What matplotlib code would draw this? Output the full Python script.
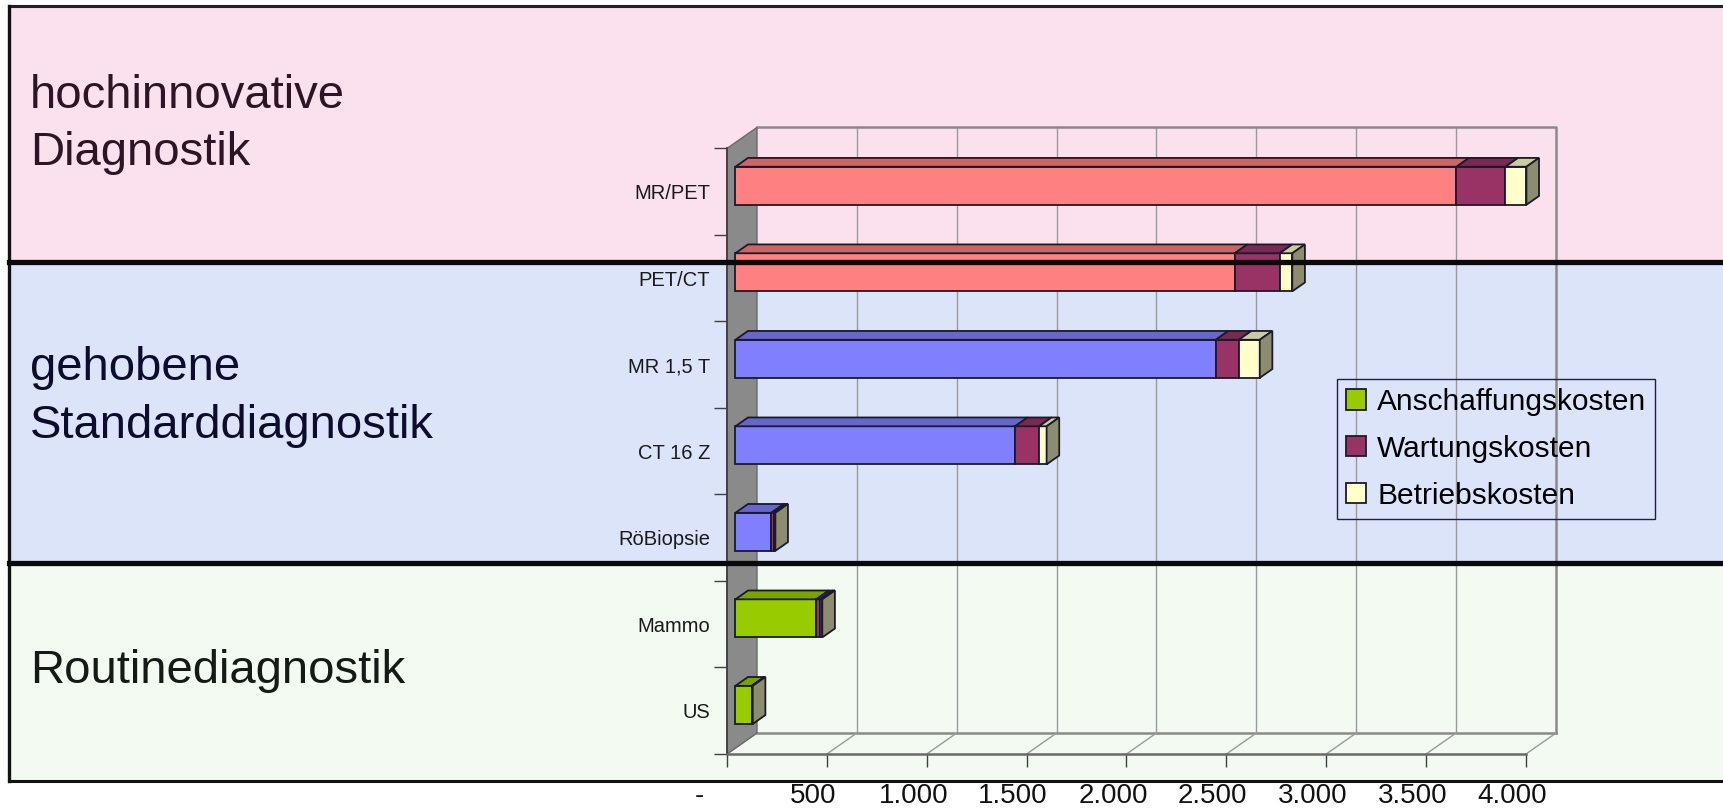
import matplotlib
matplotlib.use("Agg")
import matplotlib.pyplot as plt
from matplotlib.colors import to_rgb
from matplotlib.patches import Patch, Polygon, Rectangle
from matplotlib.transforms import ScaledTranslation

plt.rcParams["font.family"] = ["Liberation Sans", "DejaVu Sans"]

# categories from bottom (front row) to top
CATEGORIES = ["US", "Mammo", "RöBiopsie", "CT 16 Z", "MR 1,5 T", "PET/CT", "MR/PET"]
ANSCHAFFUNG = [82, 405, 180, 1400, 2405, 2500, 3610]
WARTUNG = [3, 20, 12, 120, 115, 225, 245]
BETRIEB = [2, 10, 8, 38, 105, 63, 105]
GROUP = ["routine", "routine", "standard", "standard", "standard", "innovativ", "innovativ"]

SERIES_NAMES = ["Anschaffungskosten", "Wartungskosten", "Betriebskosten"]
X_TICKS = [0, 500, 1000, 1500, 2000, 2500, 3000, 3500, 4000]
X_TICK_LABELS = ["-", "500", "1.000", "1.500", "2.000", "2.500", "3.000", "3.500", "4.000"]

GROUP_LABELS = [
    ["hochinnovative", "Diagnostik"],
    ["gehobene", "Standarddiagnostik"],
    ["Routinediagnostik"],
]

GROUP_COLORS = {"innovativ": "#ff8080", "standard": "#8080ff", "routine": "#99cc00"}
LEGEND_COLORS = ["#99cc00", "#993366", "#ffffcc"]
WARTUNG_COLOR = "#993366"
BETRIEB_COLOR = "#ffffcc"

W, H = 1724, 809


def shade(color, k):
    r, g, b = to_rgb(color)
    return (r * k, g * k, b * k)


def px(x, y):
    return x / W, 1 - y / H


fig = plt.figure(figsize=(W / 100, H / 100), dpi=100)
fig.patch.set_facecolor("white")

# background bands
bg = fig.add_axes([0, 0, 1, 1], zorder=-1)
bg.set_xlim(0, W)
bg.set_ylim(H, 0)
bg.axis("off")
bands = [(6, 262, "#fbe0ee"), (262, 563, "#dce4fa"), (563, 781, "#f2faf2")]
for y0, y1, col in bands:
    bg.add_patch(Rectangle((9, y0), W - 9, y1 - y0, facecolor=col, edgecolor="none"))

label_pos = [(108, 165), (380, 438), (683,)]
label_cols = ["#2e1424", "#0c0c2c", "#161a16"]
for lines, ys, col in zip(GROUP_LABELS, label_pos, label_cols):
    for line, y in zip(lines, ys):
        bg.text(30, y, line, fontsize=34, color=col, va="baseline", ha="left")

# chart axes: x in value units, y in category units
ax = fig.add_axes([727 / W, 1 - 754 / H, 799 / W, 605.6 / H], zorder=1)
ax.set_facecolor("none")
ax.set_xlim(0, 4000)
ax.set_ylim(-0.5, 6.5)

DX = 30 * 4000 / 799
DY = 21 / (605.6 / 7)
F0, F1 = 0.28, 0.70
BH = 0.44
YB, YT = -0.5, 6.5
XMAX = X_TICKS[-1]

grid_col = "#9a9a9a"
# back wall gridlines and frame
for v in X_TICKS[1:-1]:
    ax.plot([v + DX, v + DX], [YB + DY, YT + DY], color=grid_col, lw=1, clip_on=False, zorder=1)
ax.plot([DX, XMAX + DX, XMAX + DX], [YT + DY, YT + DY, YB + DY], color="#8a8a8a", lw=1.8,
        clip_on=False, zorder=1)
# floor
ax.plot([DX, XMAX + DX], [YB + DY, YB + DY], color="#8a8a8a", lw=1.8, clip_on=False, zorder=1)
for v in X_TICKS:
    ax.plot([v, v + DX], [YB, YB + DY], color=grid_col, lw=1, clip_on=False, zorder=1)
# left wall
ax.add_patch(Polygon([(0, YB), (0, YT), (DX, YT + DY), (DX, YB + DY)], closed=True,
                     facecolor="#8a8a8a", edgecolor="#6a6a6a", lw=1, clip_on=False, zorder=1.5))

# stacked 3d bars
for i, cat in enumerate(CATEGORIES):
    segs = [(ANSCHAFFUNG[i], GROUP_COLORS[GROUP[i]]), (WARTUNG[i], WARTUNG_COLOR),
            (BETRIEB[i], BETRIEB_COLOR)]
    yb, yt = i - BH / 2, i + BH / 2
    ox, oy = F0 * DX, F0 * DY
    bx, by = F1 * DX, F1 * DY
    left = 0
    for val, col in segs:
        right = left + val
        front = [(left + ox, yb + oy), (right + ox, yb + oy), (right + ox, yt + oy), (left + ox, yt + oy)]
        top = [(left + ox, yt + oy), (right + ox, yt + oy), (right + bx, yt + by), (left + bx, yt + by)]
        ax.add_patch(Polygon(front, closed=True, facecolor=col, edgecolor="#1a1a2a", lw=1.3,
                             clip_on=False, zorder=3))
        ax.add_patch(Polygon(top, closed=True, facecolor=shade(col, 0.8), edgecolor="#1a1a2a", lw=1.3,
                             clip_on=False, zorder=3))
        left = right
        last = col
    side = [(left + ox, yb + oy), (left + bx, yb + by), (left + bx, yt + by), (left + ox, yt + oy)]
    ax.add_patch(Polygon(side, closed=True, facecolor=shade(last, 0.55), edgecolor="#1a1a2a", lw=1.3,
                         clip_on=False, zorder=3))

# axes lines and ticks
for s in ["top", "right"]:
    ax.spines[s].set_visible(False)
ax.spines["left"].set_color("#404040")
ax.spines["bottom"].set_color("#6a6a6a")
ax.spines["left"].set_linewidth(1.3)
ax.spines["bottom"].set_linewidth(1.8)
ax.spines["left"].set_zorder(2)

ax.set_xticks(X_TICKS, [""] * len(X_TICKS))
ax.set_yticks([y + 0.5 for y in range(-1, 7)], [""] * 8)
ax.set_yticks(range(len(CATEGORIES)), CATEGORIES, minor=True)
ax.tick_params(axis="both", which="major", direction="out", length=9.4, width=1, color="#404040")
ax.tick_params(axis="y", which="minor", length=0, pad=12.2, labelsize=14.5, labelcolor="#1a1a1a")
ax.tick_params(axis="x", which="minor", length=0)

for v, lab in zip(X_TICKS, X_TICK_LABELS):
    shift = -28 if lab == "-" else -13.5
    tr = ax.transData + ScaledTranslation(shift / 100, -49 / 100, fig.dpi_scale_trans)
    ax.text(v, YB, lab, transform=tr, ha="center", va="baseline", fontsize=20, color="#111111",
            clip_on=False)

handles = [Patch(facecolor=c, edgecolor="#1a1a2a", lw=1.3) for c in LEGEND_COLORS]
fig.legend(handles, SERIES_NAMES, loc="upper left", bbox_to_anchor=px(1337, 379),
           bbox_transform=fig.transFigure, fontsize=21.5, frameon=True, fancybox=False,
           facecolor="none", edgecolor="#202040", framealpha=1, borderpad=0.3,
           labelspacing=0.63, handlelength=0.66, handleheight=0.66, handletextpad=0.38,
           borderaxespad=0)

# frame and separator lines on top
top = fig.add_axes([0, 0, 1, 1], zorder=5)
top.set_xlim(0, W)
top.set_ylim(H, 0)
top.axis("off")
top.set_facecolor("none")
top.plot([9, W], [6, 6], color="#222222", lw=2.2)
top.plot([9, 9], [6, 781], color="#111111", lw=2.4)
top.plot([9, W], [781, 781], color="#111111", lw=2.2)
top.plot([9, W], [262, 262], color="#0a0a0a", lw=3.8)
top.plot([9, W], [563, 563], color="#0a0a0a", lw=3.8)

fig.savefig("out.png", dpi=100)
